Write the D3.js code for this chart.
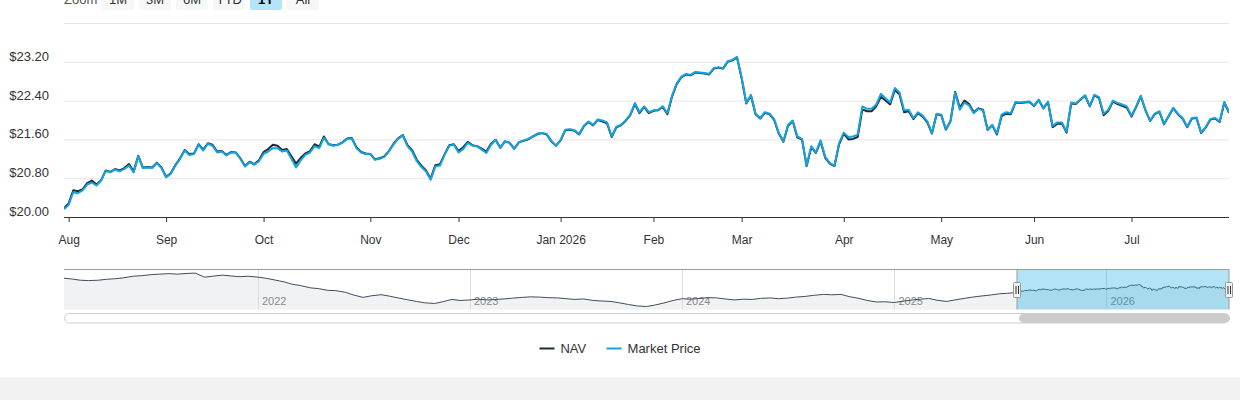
<!DOCTYPE html>
<html>
<head>
<meta charset="utf-8">
<script src="https://cdn.jsdelivr.net/npm/d3@7"></script>
<style>
  body { margin: 0; background: #fff; font-family: "Liberation Sans", Arial, sans-serif; }
  #wrapper { width: 1240px; height: 400px; }
</style>
</head>
<body>
<div id="wrapper"></div>
<script>
// daily closes, one per trading day from 2025-07-31 to 2026-07-31
const marketPrice = [
  20.16,20.25,20.51,20.49,20.55,20.67,20.71,20.65,20.75,20.95,
  20.92,20.98,20.94,20.99,21.06,20.92,21.25,21.01,21.02,21.01,
  21.11,21.01,20.82,20.89,21.06,21.20,21.37,21.28,21.30,21.49,
  21.37,21.51,21.47,21.33,21.35,21.27,21.33,21.33,21.20,21.04,
  21.13,21.08,21.15,21.30,21.35,21.42,21.42,21.35,21.37,21.20,
  21.02,21.17,21.28,21.33,21.46,21.42,21.63,21.51,21.47,21.49,
  21.53,21.61,21.62,21.42,21.33,21.30,21.30,21.18,21.20,21.24,
  21.35,21.50,21.61,21.68,21.46,21.35,21.15,21.03,20.94,20.77,
  21.04,21.06,21.28,21.47,21.49,21.33,21.40,21.53,21.47,21.46,
  21.39,21.32,21.49,21.59,21.42,21.56,21.53,21.40,21.54,21.58,
  21.61,21.66,21.72,21.73,21.71,21.57,21.47,21.59,21.80,21.81,
  21.79,21.71,21.88,21.97,21.90,22.01,21.99,21.95,21.66,21.86,
  21.90,21.99,22.11,22.35,22.16,22.28,22.16,22.20,22.21,22.28,
  22.14,22.50,22.75,22.89,22.95,22.93,22.99,22.98,22.97,22.95,
  23.07,23.09,23.07,23.21,23.24,23.30,22.87,22.35,22.52,22.13,
  22.04,22.16,22.13,22.02,21.73,21.56,21.90,21.99,21.66,21.61,
  21.06,21.46,21.33,21.58,21.24,21.11,21.06,21.53,21.74,21.65,
  21.66,21.70,22.28,22.23,22.23,22.32,22.54,22.45,22.36,22.66,
  22.57,22.20,22.21,22.04,22.16,22.09,21.97,21.73,22.13,22.11,
  21.81,21.97,22.56,22.21,22.36,22.30,22.14,22.23,22.20,21.79,
  21.90,21.72,22.11,22.16,22.14,22.37,22.36,22.37,22.38,22.30,
  22.42,22.25,22.38,21.88,21.95,21.95,21.76,22.36,22.34,22.43,
  22.51,22.29,22.52,22.47,22.13,22.21,22.40,22.35,22.32,22.28,
  22.09,22.28,22.50,22.21,21.99,22.13,22.18,21.92,22.09,22.25,
  22.13,22.04,21.86,22.04,22.05,21.74,21.86,22.02,22.04,21.97,
  22.37,22.16
]

const navValues = [
  20.18,20.28,20.55,20.53,20.57,20.70,20.75,20.67,20.76,20.96,
  20.93,20.99,20.96,21.01,21.09,20.94,21.26,21.02,21.03,21.02,
  21.12,21.02,20.83,20.90,21.07,21.21,21.38,21.30,21.31,21.50,
  21.39,21.52,21.49,21.35,21.36,21.28,21.34,21.33,21.21,21.05,
  21.14,21.09,21.17,21.34,21.40,21.49,21.47,21.38,21.40,21.25,
  21.10,21.22,21.31,21.36,21.50,21.45,21.66,21.50,21.48,21.49,
  21.54,21.62,21.63,21.44,21.34,21.31,21.30,21.19,21.21,21.25,
  21.36,21.51,21.62,21.69,21.48,21.38,21.18,21.06,20.96,20.79,
  21.07,21.09,21.29,21.48,21.50,21.36,21.44,21.55,21.48,21.46,
  21.41,21.35,21.51,21.59,21.43,21.56,21.53,21.41,21.54,21.57,
  21.60,21.66,21.71,21.73,21.70,21.56,21.47,21.58,21.79,21.80,
  21.78,21.70,21.87,21.96,21.89,22.00,21.97,21.93,21.65,21.85,
  21.89,21.98,22.10,22.33,22.14,22.27,22.14,22.19,22.20,22.27,
  22.12,22.48,22.74,22.88,22.94,22.92,22.98,22.97,22.96,22.94,
  23.06,23.08,23.06,23.20,23.23,23.29,22.86,22.34,22.50,22.12,
  22.03,22.15,22.12,22.00,21.72,21.55,21.88,21.98,21.64,21.60,
  21.05,21.44,21.32,21.56,21.22,21.10,21.05,21.50,21.72,21.60,
  21.61,21.65,22.22,22.18,22.18,22.28,22.48,22.40,22.32,22.62,
  22.53,22.16,22.18,22.02,22.14,22.07,21.95,21.72,22.12,22.10,
  21.80,21.98,22.58,22.25,22.40,22.33,22.16,22.24,22.21,21.80,
  21.89,21.70,22.08,22.13,22.12,22.36,22.35,22.36,22.37,22.29,
  22.41,22.24,22.37,21.85,21.92,21.93,21.74,22.34,22.33,22.42,
  22.50,22.28,22.51,22.45,22.10,22.19,22.38,22.33,22.29,22.25,
  22.07,22.27,22.49,22.20,21.98,22.12,22.17,21.91,22.08,22.24,
  22.12,22.03,21.85,22.03,22.04,21.73,21.85,22.01,22.03,21.96,
  22.36,22.15
]

const marketHolidays = [
  '2025-09-01', '2025-11-27', '2025-12-25', '2026-01-01', '2026-01-19',
  '2026-02-16', '2026-04-03', '2026-05-25', '2026-06-19', '2026-07-03'
]

// NAV history shown in the navigator, 1st and 15th of each month, Feb 2021 - Jul 2025
const navHistory = [
  25.74,25.40,24.95,24.80,24.95,25.30,25.54,25.90,26.52,26.70,27.11,27.30,
  27.50,27.30,27.58,27.70,26.13,26.50,26.91,26.60,26.32,26.50,
  26.13,25.70,24.95,24.30,23.38,22.90,22.01,21.70,21.03,20.90,20.25,19.20,
  18.29,18.90,19.34,18.80,18.01,17.40,16.72,16.20,15.93,16.60,17.50,17.10,
  17.30,17.60,17.30,17.50,17.70,18.00,18.29,18.50,18.40,18.20,18.09,17.80,
  17.50,17.70,17.11,16.90,16.72,16.20,15.54,15.00,14.76,15.30,16.13,17.00,
  17.78,17.60,17.89,18.20,18.09,17.70,17.30,17.60,17.50,17.90,18.09,17.80,
  18.01,18.40,18.68,19.10,19.46,19.30,19.46,18.60,17.89,17.10,16.52,16.60,
  16.33,16.80,17.30,17.60,17.89,17.20,16.72,17.30,17.89,18.40,18.87,19.20,
  19.70,19.90
]

const yTicks = [20, 20.8, 21.6, 22.4, 23.2, 24]
const zoomButtons = ['1M', '3M', '6M', 'YTD', '1Y', 'All']
const selectedZoom = '1Y'
const seriesNames = ['NAV', 'Market Price']

function drawFundChart() {
  /* ACCESS DATA */
  const dayKey = d3.timeFormat('%Y-%m-%d')
  const tradingDays = d3.timeDay.range(new Date(2025, 6, 31), new Date(2026, 7, 1))
    .filter(d => d.getDay() % 6 !== 0 && !marketHolidays.includes(dayKey(d)))

  const navSeries = tradingDays.map((date, i) => ({ date, value: navValues[i] }))
  const priceSeries = tradingDays.map((date, i) => ({ date, value: marketPrice[i] }))

  const historyDates = d3.timeMonth.range(new Date(2021, 1, 1), new Date(2025, 6, 2))
    .flatMap(d => [d, d3.timeDay.offset(d, 14)])
  const navigatorSeries = historyDates
    .map((date, i) => ({ date, value: navHistory[i] }))
    .concat(navSeries)

  const monthStarts = tradingDays.filter((d, i) => i > 0 && d.getMonth() !== tradingDays[i - 1].getMonth())

  /* CHART DIMENSIONS */
  const dimensions = {
    width: 1240,
    height: 400,
    margin: { top: 23, right: 11, left: 64 },
    plotBottom: 217,
    navTop: 269.5,
    navBottom: 309.5,
    scrollTop: 313.5,
    legendY: 348.5,
    footerTop: 377.5
  }
  dimensions.boundedWidth = dimensions.width - dimensions.margin.left - dimensions.margin.right
  const plotRight = dimensions.margin.left + dimensions.boundedWidth

  const colors = { nav: '#1d2b38', price: '#14a3de', grid: '#e6e6e6', text: '#333' }

  /* SCALES */
  const xScale = d3.scalePoint()
    .domain(tradingDays)
    .range([dimensions.margin.left, plotRight])

  const yScale = d3.scaleLinear()
    .domain([20, 24])
    .range([dimensions.plotBottom, dimensions.margin.top])

  const navX = d3.scaleTime()
    .domain(d3.extent(navigatorSeries, d => d.date))
    .range([dimensions.margin.left, plotRight])

  const navY = d3.scaleLinear()
    .domain([13.6, 29.1])
    .range([dimensions.navBottom, dimensions.navTop])

  /* DRAW DATA */
  const wrapper = d3.select('#wrapper')
    .append('svg')
    .attr('width', dimensions.width)
    .attr('height', dimensions.height)
    .attr('viewBox', [0, 0, dimensions.width, dimensions.height])
    .style('font-family', '"Liberation Sans", Arial, sans-serif')

  wrapper.append('rect')
    .attr('x', 0).attr('y', dimensions.footerTop)
    .attr('width', dimensions.width).attr('height', dimensions.height - dimensions.footerTop)
    .attr('fill', '#f2f2f2')

  wrapper.append('defs').append('clipPath').attr('id', 'plot-clip')
    .append('rect')
    .attr('x', dimensions.margin.left).attr('y', 0)
    .attr('width', dimensions.boundedWidth).attr('height', dimensions.plotBottom + 2)

  // range selector, cut off at the top of the frame as in the page
  const zoomGroup = wrapper.append('g').attr('font-size', 13)
  zoomGroup.append('text')
    .attr('x', dimensions.margin.left).attr('y', 4)
    .attr('fill', '#555')
    .text('Zoom')
  const buttons = zoomGroup.selectAll('g.button')
    .data(zoomButtons)
    .enter()
    .append('g')
    .attr('class', 'button')
    .attr('transform', (d, i) => `translate(${102 + i * 37} -12)`)
  buttons.append('rect')
    .attr('width', 32).attr('height', 22).attr('rx', 2)
    .attr('fill', d => d === selectedZoom ? '#b3e4f7' : '#f7f7f7')
  buttons.append('text')
    .attr('x', 16).attr('y', 16)
    .attr('text-anchor', 'middle')
    .attr('fill', d => d === selectedZoom ? '#000' : colors.text)
    .attr('font-weight', d => d === selectedZoom ? 'bold' : 'normal')
    .text(d => d)

  // y axis with grid
  const yAxisGroup = wrapper.append('g')
    .attr('transform', `translate(${dimensions.margin.left} 0)`)
    .call(d3.axisLeft(yScale)
      .tickValues(yTicks)
      .tickSize(-dimensions.boundedWidth)
      .tickFormat(d => d === 24 ? '' : d3.format('$.2f')(d)))
  yAxisGroup.select('.domain').remove()
  yAxisGroup.selectAll('line').attr('stroke', colors.grid)
  yAxisGroup.selectAll('text')
    .attr('x', -15).attr('dy', -1.5)
    .attr('font-size', 13).attr('fill', colors.text)
    .attr('font-family', '"Liberation Sans", Arial, sans-serif')

  // x axis
  const xAxisGroup = wrapper.append('g')
    .attr('transform', `translate(0 ${dimensions.plotBottom})`)
    .call(d3.axisBottom(xScale)
      .tickValues(monthStarts)
      .tickSize(5)
      .tickPadding(13)
      .tickFormat(d => d.getMonth() === 0 ? d3.timeFormat('%b %Y')(d) : d3.timeFormat('%b')(d)))
  xAxisGroup.select('.domain')
    .attr('d', `M${dimensions.margin.left},0.5H${plotRight}`)
    .attr('stroke', colors.text)
  xAxisGroup.selectAll('line').attr('stroke', colors.text)
  xAxisGroup.selectAll('text')
    .attr('font-size', 12).attr('fill', colors.text)
    .attr('font-family', '"Liberation Sans", Arial, sans-serif')

  const lineGenerator = d3.line()
    .x(d => xScale(d.date))
    .y(d => yScale(d.value))

  const linesGroup = wrapper.append('g').attr('clip-path', 'url(#plot-clip)')
  linesGroup.selectAll('path')
    .data([navSeries, priceSeries])
    .enter()
    .append('path')
    .attr('d', lineGenerator)
    .attr('fill', 'none')
    .attr('stroke', (d, i) => i === 0 ? colors.nav : colors.price)
    .attr('stroke-width', 2)
    .attr('stroke-linejoin', 'round')

  /* NAVIGATOR */
  const navGroup = wrapper.append('g')

  navGroup.append('path')
    .datum(navigatorSeries)
    .attr('d', d3.area()
      .x(d => navX(d.date))
      .y0(dimensions.navBottom)
      .y1(d => navY(d.value)))
    .attr('fill', '#f1f2f4')

  const years = navX.ticks(d3.timeYear)
  navGroup.append('g')
    .selectAll('line')
    .data(years)
    .enter()
    .append('line')
    .attr('x1', d => Math.round(navX(d)) + 0.5).attr('x2', d => Math.round(navX(d)) + 0.5)
    .attr('y1', dimensions.navTop).attr('y2', dimensions.navBottom)
    .attr('stroke', '#dcdcdc')
  navGroup.append('g')
    .attr('font-size', 11)
    .attr('fill', '#8a8a8a')
    .selectAll('text')
    .data(years)
    .enter()
    .append('text')
    .attr('x', d => navX(d) + 4)
    .attr('y', dimensions.navBottom - 4.5)
    .text(d3.timeFormat('%Y'))

  navGroup.append('path')
    .datum(navigatorSeries)
    .attr('d', d3.line().x(d => navX(d.date)).y(d => navY(d.value)))
    .attr('fill', 'none')
    .attr('stroke', '#3f4d5b')
    .attr('stroke-width', 1)

  const selStart = navX(tradingDays[0])
  const selEnd = navX(tradingDays[tradingDays.length - 1])
  navGroup.append('rect')
    .attr('x', selStart).attr('y', dimensions.navTop)
    .attr('width', selEnd - selStart).attr('height', dimensions.navBottom - dimensions.navTop)
    .attr('fill', 'rgb(0, 163, 224)')
    .attr('fill-opacity', 0.3)

  navGroup.append('path')
    .attr('d', `M${dimensions.margin.left},${dimensions.navTop}H${plotRight}` +
      `M${selStart},${dimensions.navTop}V${dimensions.navBottom}` +
      `M${selEnd},${dimensions.navTop}V${dimensions.navBottom}`)
    .attr('fill', 'none')
    .attr('stroke', '#9a9a9a')

  const handles = navGroup.selectAll('g.handle')
    .data([selStart, selEnd])
    .enter()
    .append('g')
    .attr('class', 'handle')
    .attr('transform', d => `translate(${Math.round(d)} 282)`)
  handles.append('rect')
    .attr('x', -3.5).attr('y', 0.5)
    .attr('width', 7).attr('height', 15).attr('rx', 1)
    .attr('fill', '#f2f2f2').attr('stroke', '#999')
  handles.selectAll('line')
    .data([-1, 1.5])
    .enter()
    .append('line')
    .attr('x1', d => d).attr('x2', d => d)
    .attr('y1', 4).attr('y2', 12)
    .attr('stroke', '#333')

  // scrollbar
  navGroup.append('rect')
    .attr('x', dimensions.margin.left + 0.5).attr('y', dimensions.scrollTop)
    .attr('width', dimensions.boundedWidth - 1).attr('height', 9.5).attr('rx', 4.75)
    .attr('fill', '#fff').attr('stroke', '#cfcfcf')
  navGroup.append('rect')
    .attr('x', selStart + 2).attr('y', dimensions.scrollTop)
    .attr('width', selEnd - selStart - 1).attr('height', 9.5).attr('rx', 4.75)
    .attr('fill', '#cccccc')

  /* LEGEND */
  const legendGroup = wrapper.append('g').attr('font-size', 13)
  const legendItems = legendGroup.selectAll('g')
    .data(seriesNames)
    .enter()
    .append('g')
  legendItems.append('line')
    .attr('x1', 0).attr('x2', 15)
    .attr('y1', dimensions.legendY).attr('y2', dimensions.legendY)
    .attr('stroke', (d, i) => i === 0 ? colors.nav : colors.price)
    .attr('stroke-width', 2)
  legendItems.append('text')
    .attr('x', 21).attr('y', dimensions.legendY + 4.5)
    .attr('fill', colors.text)
    .text(d => d)

  const itemWidths = legendItems.nodes().map(n => n.getBBox().width)
  const itemGap = 20
  const legendWidth = d3.sum(itemWidths) + itemGap * (itemWidths.length - 1)
  let cursor = dimensions.width / 2 - legendWidth / 2
  legendItems.attr('transform', (d, i) => {
    const x = cursor
    cursor += itemWidths[i] + itemGap
    return `translate(${x} 0)`
  })
}

drawFundChart()
</script>
</body>
</html>
